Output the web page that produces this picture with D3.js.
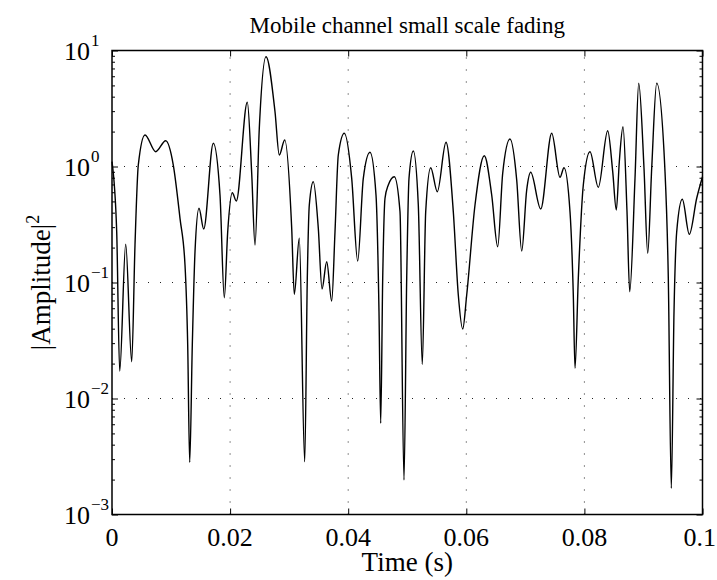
<!DOCTYPE html>
<html>
<head>
<meta charset="utf-8">
<script src="https://cdn.jsdelivr.net/npm/d3@7"></script>
<style>
  html, body { margin: 0; padding: 0; background: #fff; }
  svg text { font-family: "Liberation Serif", "Times New Roman", serif; fill: #000; }
</style>
</head>
<body>
<svg id="chart" width="717" height="580"></svg>
<script>
// Sampled channel response: time (s) and squared amplitude
const timeS = [
  0, 0.000796, 0.001304, 0.00232, 0.003336, 0.003895, 0.004454, 0.005589, 0.007401, 0.009094,
  0.01038, 0.011516, 0.012363, 0.01282, 0.013158, 0.013599, 0.014056, 0.014733, 0.01553, 0.017155,
  0.01829, 0.019018, 0.019594, 0.020373, 0.02105, 0.022913, 0.023658, 0.024217, 0.024945, 0.02608,
  0.027604, 0.028332, 0.029247, 0.030432, 0.030873, 0.031719, 0.032634, 0.033074, 0.033413, 0.03409,
  0.034937, 0.035564, 0.036359, 0.037206, 0.037765, 0.038324, 0.03934, 0.040593, 0.041609, 0.042558,
  0.043692, 0.044708, 0.045216, 0.045504, 0.045843, 0.046233, 0.046791, 0.047808, 0.048773, 0.04945,
  0.049908, 0.050297, 0.051025, 0.051872, 0.052549, 0.053125, 0.053972, 0.055089, 0.056563, 0.057799,
  0.058646, 0.059391, 0.060068, 0.061474, 0.063049, 0.064302, 0.065318, 0.066165, 0.067401, 0.068536,
  0.069383, 0.070229, 0.070907, 0.072601, 0.074464, 0.075869, 0.076546, 0.077562, 0.078121, 0.078409,
  0.078968, 0.079815, 0.080949, 0.082354, 0.083946, 0.084795, 0.085403, 0.085911, 0.086538, 0.087215,
  0.087673, 0.08857, 0.089197, 0.090094, 0.090721, 0.091398, 0.092245, 0.093651, 0.09421, 0.094718,
  0.095175, 0.095632, 0.096583, 0.097768, 0.099016, 0.1
];
const amplitudeSq = [
  1.1, 0.274, 0.01726, 0.2135, 0.02075, 0.2104, 1.03, 1.869, 1.342, 1.669,
  1.03, 0.3576, 0.1416, 0.0289, 0.002818, 0.0289, 0.1843, 0.4362, 0.2892, 1.585,
  0.5679, 0.07396, 0.274, 0.5943, 0.5042, 3.576, 0.874, 0.2106, 2.135, 8.843,
  2.967, 1.256, 1.692, 0.2932, 0.0791, 0.2404, 0.002851, 0.1087, 0.4657, 0.7396,
  0.2932, 0.0879, 0.1511, 0.06926, 0.274, 1.256, 1.933, 0.791, 0.1532, 0.791,
  1.326, 0.5679, 0.05601, 0.00611, 0.1087, 0.5321, 0.6927, 0.8168, 0.4076, 0.001983,
  0.1087, 0.791, 1.36, 0.4657, 0.01972, 0.4076, 0.9765, 0.6063, 1.617, 0.4076,
  0.07802, 0.03972, 0.07802, 0.4657, 1.239, 0.5679, 0.2035, 0.874, 1.726, 0.765,
  0.1869, 0.627, 0.891, 0.4301, 1.933, 0.807, 0.9765, 0.4076, 0.07802, 0.0182,
  0.1087, 0.6927, 1.342, 0.6616, 2.035, 0.902, 0.4217, 1.1, 2.203, 0.4076,
  0.08327, 0.791, 5.214, 0.965, 0.1785, 0.965, 5.214, 0.902, 0.1087, 0.001682,
  0.05601, 0.274, 0.5214, 0.2603, 0.5321, 0.8168
];

const xTicks = [0, 0.02, 0.04, 0.06, 0.08, 0.1];
const xTickLabels = ["0", "0.02", "0.04", "0.06", "0.08", "0.1"];
const yDecades = [-3, -2, -1, 0, 1];
const titleText = "Mobile channel small scale fading";
const xLabelText = "Time (s)";
const yLabelText = "|Amplitude|";
const yLabelPower = "2";

const svg = d3.select("#chart");
const width = 717;
const plotLeft = 112, plotRight = 702.5, plotTop = 50.5, plotBottom = 514.5;

const x = d3.scaleLinear().domain([0, 0.1]).range([plotLeft, plotRight]);
const y = d3.scaleLog().domain([1e-3, 1e1]).range([plotBottom, plotTop]);

const majorY = yDecades.map(e => Math.pow(10, e));
const minorY = [];
yDecades.slice(0, -1).forEach(e => {
  for (let m = 2; m <= 9; m++) minorY.push(m * Math.pow(10, e));
});

// dotted grid
const grid = svg.append("g").attr("stroke", "#222").attr("stroke-width", 1)
  .attr("stroke-dasharray", "1 11").attr("fill", "none");
xTicks.slice(1, -1).forEach(t => {
  grid.append("line").attr("x1", x(t)).attr("x2", x(t))
    .attr("y1", plotBottom).attr("y2", plotTop);
});
majorY.slice(1, -1).forEach(v => {
  grid.append("line").attr("x1", plotLeft).attr("x2", plotRight)
    .attr("y1", y(v)).attr("y2", y(v));
});

// signal trace
const series = timeS.map((t, i) => [t, amplitudeSq[i]]);
const line = d3.line().x(d => x(d[0])).y(d => y(d[1])).curve(d3.curveMonotoneX);
svg.append("path").datum(series).attr("d", line)
  .attr("fill", "none").attr("stroke", "#000").attr("stroke-width", 1.4)
  .attr("stroke-linejoin", "round");

// inward tick marks on all four sides
function ticks(axis, transform) {
  const g = svg.append("g").attr("transform", transform).call(axis);
  g.select(".domain").remove();
  g.selectAll("text").remove();
  g.selectAll("line").attr("stroke", "#000").attr("stroke-width", 1);
  return g;
}
ticks(d3.axisBottom(x).tickValues(xTicks).tickSizeInner(-6).tickSizeOuter(0), `translate(0,${plotBottom})`);
ticks(d3.axisTop(x).tickValues(xTicks).tickSizeInner(-6).tickSizeOuter(0), `translate(0,${plotTop})`);
ticks(d3.axisLeft(y).tickValues(majorY).tickSizeInner(-6).tickSizeOuter(0), `translate(${plotLeft},0)`);
ticks(d3.axisRight(y).tickValues(majorY).tickSizeInner(-6).tickSizeOuter(0), `translate(${plotRight},0)`);
ticks(d3.axisLeft(y).tickValues(minorY).tickSizeInner(-3).tickSizeOuter(0), `translate(${plotLeft},0)`);
ticks(d3.axisRight(y).tickValues(minorY).tickSizeInner(-3).tickSizeOuter(0), `translate(${plotRight},0)`);

// frame
svg.append("rect").attr("x", plotLeft).attr("y", plotTop)
  .attr("width", plotRight - plotLeft).attr("height", plotBottom - plotTop)
  .attr("fill", "none").attr("stroke", "#000").attr("stroke-width", 1.5);

// x tick labels; the last one is kept inside the page edge
const lastX = xTicks.length - 1;
svg.append("g").selectAll("text").data(xTicks).join("text")
  .attr("x", (d, i) => i === lastX ? width - 1 : x(d)).attr("y", plotBottom + 31)
  .attr("text-anchor", (d, i) => i === lastX ? "end" : "middle").attr("font-size", 26)
  .text((d, i) => xTickLabels[i]);

// y tick labels as 10 with raised exponent
const yl = svg.append("g").selectAll("g").data(yDecades).join("g");
yl.append("text").attr("x", 90).attr("y", d => y(Math.pow(10, d)) + 9)
  .attr("text-anchor", "end").attr("font-size", 26).text("10");
yl.append("text").attr("x", 91).attr("y", d => y(Math.pow(10, d)) - 5)
  .attr("text-anchor", "start").attr("font-size", 17)
  .text(d => d < 0 ? "\u2212" + Math.abs(d) : String(d));

// title and axis labels
svg.append("text").attr("x", (plotLeft + plotRight) / 2).attr("y", 33)
  .attr("text-anchor", "middle").attr("font-size", 23).text(titleText);
svg.append("text").attr("x", (plotLeft + plotRight) / 2).attr("y", 571)
  .attr("text-anchor", "middle").attr("font-size", 27).text(xLabelText);
const ylab = svg.append("text")
  .attr("transform", `translate(50,${(plotTop + plotBottom) / 2}) rotate(-90)`)
  .attr("text-anchor", "middle").attr("font-size", 27);
ylab.append("tspan").text(yLabelText);
ylab.append("tspan").attr("font-size", 18).attr("dy", -11).text(yLabelPower);
</script>
</body>
</html>
